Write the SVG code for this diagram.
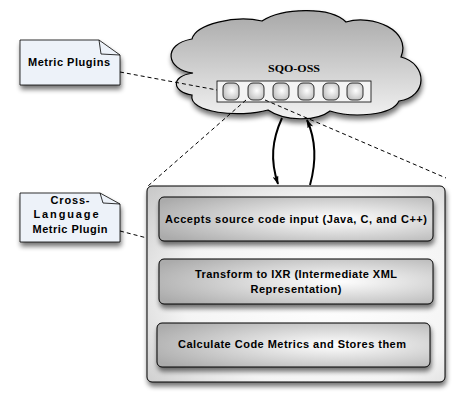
<svg xmlns="http://www.w3.org/2000/svg" width="464" height="406" viewBox="0 0 464 406">
<defs>
<style>
.t{font-family:"Liberation Sans",Arial,sans-serif;font-weight:bold;font-size:11px;fill:#000;text-anchor:middle}
.s{font-family:"Liberation Serif","Times New Roman",serif;font-weight:bold;font-size:11px;fill:#000;text-anchor:middle}
.dash{fill:none;stroke:#000;stroke-width:1;stroke-dasharray:4,3}
.arr{fill:none;stroke:#000;stroke-width:2}
.ib{fill:url(#gInner);stroke:#000;stroke-width:1}
.note{fill:#edf2f9;stroke:#000;stroke-width:0.8}
.dot{fill:url(#gDot);stroke:#000;stroke-width:0.8}
</style>
<radialGradient id="gInner" cx="0.65" cy="0.5" r="0.75">
<stop offset="0" stop-color="#ffffff"/>
<stop offset="1" stop-color="#ababab"/>
</radialGradient>
<radialGradient id="gOuter" cx="0.6" cy="0.55" r="0.8">
<stop offset="0" stop-color="#ffffff"/>
<stop offset="0.6" stop-color="#f4f4f4"/>
<stop offset="1" stop-color="#c8c8c8"/>
</radialGradient>
<linearGradient id="gCloud" x1="0" y1="0" x2="0" y2="1">
<stop offset="0" stop-color="#a8a8a8"/>
<stop offset="1" stop-color="#f2f2f2"/>
</linearGradient>
<radialGradient id="gDot" cx="0.55" cy="0.45" r="0.6">
<stop offset="0" stop-color="#ffffff"/>
<stop offset="1" stop-color="#c0c0c0"/>
</radialGradient>
<filter id="sh" x="-10%" y="-10%" width="125%" height="135%">
<feGaussianBlur in="SourceAlpha" stdDeviation="2.5"/>
<feOffset dx="1" dy="4" result="b"/>
<feComponentTransfer><feFuncA type="linear" slope="0.55"/></feComponentTransfer>
<feMerge><feMergeNode/><feMergeNode in="SourceGraphic"/></feMerge>
</filter>
<marker id="ahL" viewBox="0 0 12 8" refX="11" refY="4" markerWidth="12" markerHeight="6" markerUnits="userSpaceOnUse" orient="auto">
<path d="M0,0 L12,4 L0,8 L3,4 Z" fill="#000"/>
</marker>
</defs>
<rect width="464" height="406" fill="#ffffff"/>

<g id="cloud">
<path filter="url(#sh)" d="M193,73 C166,70 162,44 192,39 C196,24 235,15 262,21 C282,8 330,6 346,22 C372,14 412,30 401,57 C428,64 428,97 399,101 C392,116 352,118 330,111 C316,122 284,121 268,110 C240,118 188,113 192,95 C172,92 170,76 193,73 Z" fill="url(#gCloud)" stroke="#000" stroke-width="1.2"/>
<text class="s" x="294" y="72" textLength="52" lengthAdjust="spacingAndGlyphs">SQO-OSS</text>
</g>

<g id="plugin-strip">
<rect x="217" y="81" width="154" height="21" fill="#f4f4f4" stroke="#000" stroke-width="0.8"/>
<rect class="dot" x="223" y="83" width="16" height="17" rx="5"/>
<rect class="dot" x="248" y="83" width="16" height="17" rx="5"/>
<rect class="dot" x="273" y="83" width="16" height="17" rx="5"/>
<rect class="dot" x="298" y="83" width="16" height="17" rx="5"/>
<rect class="dot" x="323" y="83" width="16" height="17" rx="5"/>
<rect class="dot" x="347" y="83" width="16" height="17" rx="5"/>
</g>

<g id="metric-plugins">
<path class="note" filter="url(#sh)" d="M20,40 L99,40 L120,55 L120,85 L20,85 Z"/>
<path d="M99,40 L101,54 L120,55" fill="none" stroke="#000" stroke-width="0.8"/>
<text class="t" x="69" y="66" textLength="82" lengthAdjust="spacing">Metric Plugins</text>
</g>

<g id="cross-language-plugin">
<path class="note" filter="url(#sh)" d="M20,193 L100,193 L120,204 L120,242 L20,242 Z"/>
<path d="M100,193 L103,203 L120,204" fill="none" stroke="#000" stroke-width="0.8"/>
<text class="t" x="70" y="204" textLength="39" lengthAdjust="spacing">Cross-</text>
<text class="t" x="66" y="218" textLength="65" lengthAdjust="spacing">Language</text>
<text class="t" x="70" y="233" textLength="75" lengthAdjust="spacing">Metric Plugin</text>
</g>

<g id="connectors">
<path class="dash" d="M120,72 L217,90"/>
<path class="dash" d="M246,100 L148,186"/>
<path class="dash" d="M265,100 L446,178"/>
<path class="dash" d="M120,231 L147,238"/>
<path class="arr" d="M282,118 C272,140 270,160 278,184" marker-end="url(#ahL)"/>
<path class="arr" d="M310,185 C317,160 316,140 307,120" marker-end="url(#ahL)"/>
</g>

<g id="plugin-box">
<rect filter="url(#sh)" x="147" y="186" width="298" height="196" rx="5" fill="url(#gOuter)" stroke="#000" stroke-width="1"/>
</g>

<g id="step-accept">
<rect class="ib" filter="url(#sh)" x="159" y="197" width="274" height="44" rx="5"/>
<text class="t" x="296" y="223" textLength="262" lengthAdjust="spacing">Accepts source code input (Java, C, and C++)</text>
</g>

<g id="step-transform">
<rect class="ib" filter="url(#sh)" x="159" y="259" width="274" height="45" rx="5"/>
<text class="t" x="296" y="278" textLength="202" lengthAdjust="spacing">Transform to IXR (Intermediate XML</text>
<text class="t" x="296" y="293" textLength="91" lengthAdjust="spacing">Representation)</text>
</g>

<g id="step-calculate">
<rect class="ib" filter="url(#sh)" x="157" y="323" width="273" height="44" rx="5"/>
<text class="t" x="292" y="348" textLength="228" lengthAdjust="spacing">Calculate Code Metrics and Stores them</text>
</g>
</svg>
